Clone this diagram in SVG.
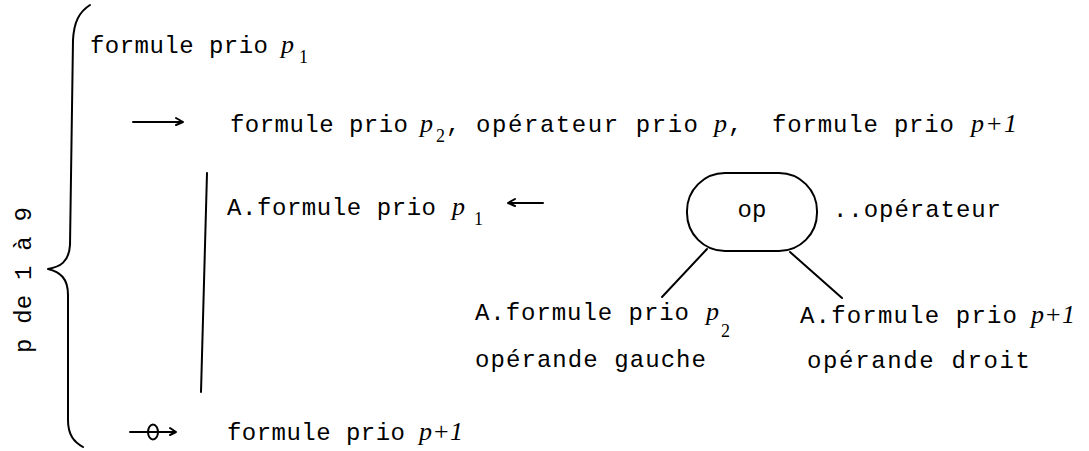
<svg xmlns="http://www.w3.org/2000/svg" width="1089" height="451" viewBox="0 0 1089 451">
<style>
.t{font-family:"Liberation Mono","Courier New",monospace;font-size:24px;fill:#000}
.i{font-family:"Liberation Serif","Times New Roman",serif;font-style:italic;font-size:26px;fill:#000}
.s{font-family:"Liberation Serif","Times New Roman",serif;font-size:18px;fill:#000}
.ln{fill:none;stroke:#000;stroke-width:2;stroke-linecap:round;stroke-linejoin:round}
</style>
<rect width="1089" height="451" fill="#fff"/>
<g id="brace">
<path class="ln" d="M90,5 C79,12 74,22 73,40 L70,245 C69,262 60,267 48,269 C60,272 68,278 68,295 L68,420 C68,435 74,442 83,447"/>
<text class="t" transform="translate(31,353) rotate(-90)" x="0" y="0" textLength="146">p de 1 à 9</text>
</g>
<g id="line1">
<text class="t" x="90" y="53" textLength="178">formule prio</text>
<text class="i" x="281" y="53">p</text><text class="s" x="299" y="63">1</text>
</g>
<g id="line2">
<text class="t" x="230" y="132" textLength="178">formule prio</text>
<text class="i" x="420" y="132">p</text><text class="s" x="436" y="142">2</text>
<text class="t" x="446" y="132">,</text>
<text class="t" x="476" y="132" textLength="222">opérateur prio</text>
<text class="i" x="714" y="132">p</text>
<text class="t" x="728" y="132">,</text>
<text class="t" x="772" y="132" textLength="182">formule prio</text>
<text class="i" x="971" y="132" textLength="46">p+1</text>
</g>
<g id="line3">
<text class="t" x="227" y="215" textLength="209">A.formule prio</text>
<text class="i" x="452" y="215">p</text><text class="s" x="474" y="225">1</text>
</g>
<g id="op">
<rect class="ln" x="687" y="173" width="130" height="78" rx="38" ry="38"/>
<text class="t" x="752" y="217" text-anchor="middle">op</text>
</g>
<text class="t" x="833" y="217" textLength="168">..opérateur</text>
<g id="left">
<text class="t" x="475" y="320" textLength="214">A.formule prio</text>
<text class="i" x="706" y="320">p</text><text class="s" x="721" y="337" font-size="20">2</text>
<text class="t" x="475" y="367" textLength="231">opérande gauche</text>
</g>
<g id="right">
<text class="t" x="800" y="323" textLength="217">A.formule prio</text>
<text class="i" x="1031" y="323" textLength="44">p+1</text>
<text class="t" x="807" y="368" textLength="223">opérande droit</text>
</g>
<g id="line4">
<text class="t" x="227" y="440" textLength="178">formule prio</text>
<text class="i" x="419" y="440" textLength="44">p+1</text>
</g>
<g id="connectors">
<path class="ln" d="M133,122 H183 M176,118 L183,122 L176,125"/>
<path class="ln" d="M207,173 L201,392"/>
<path class="ln" d="M543,203 H508 M515,199 L508,203 L515,206"/>
<path class="ln" d="M707,249 L662,297"/>
<path class="ln" d="M790,252 L842,298"/>
<path class="ln" d="M130,432 H176 M170,428 L176,432 L170,435"/>
<ellipse class="ln" cx="153" cy="432" rx="5" ry="7.5" stroke-width="1.6"/>
</g>
</svg>
